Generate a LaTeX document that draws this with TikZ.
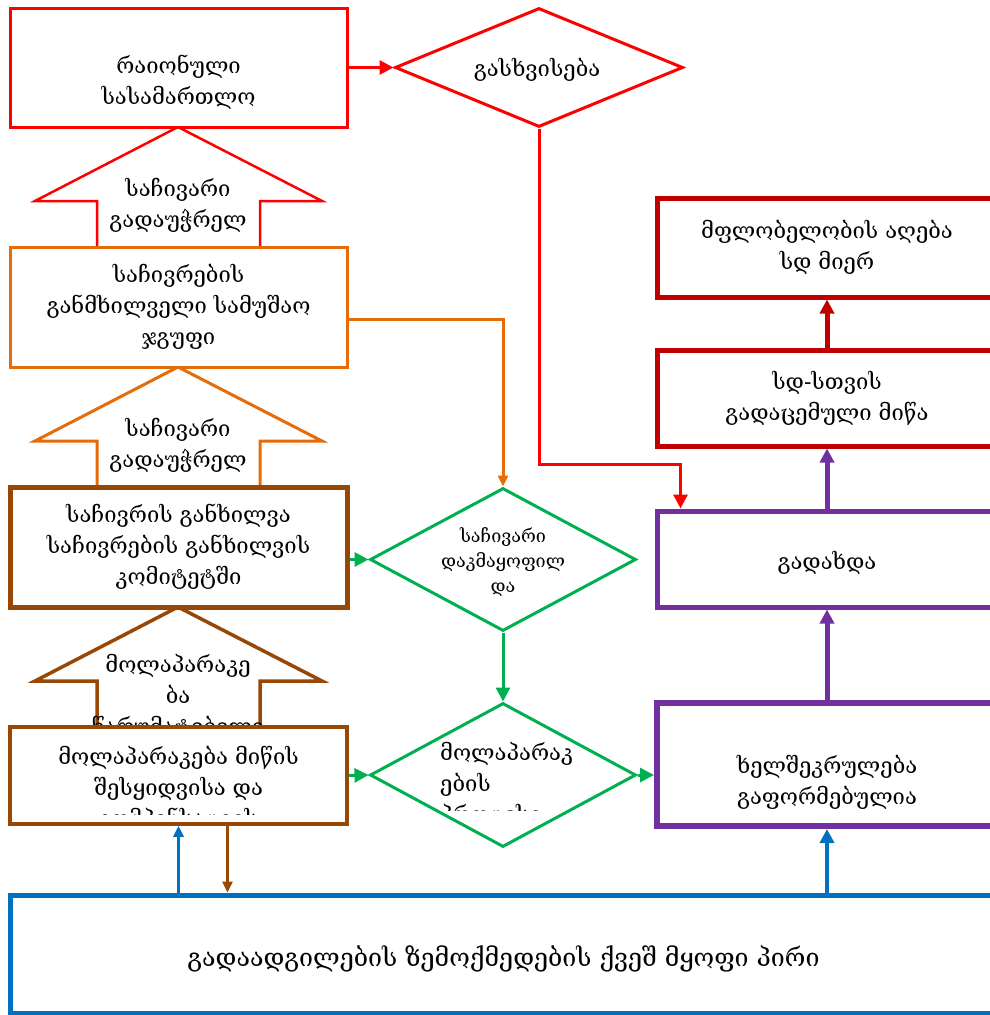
\documentclass[tikz,border=0pt]{standalone}
\usepackage{fontspec}
\setmainfont{DejaVu Serif}
\usetikzlibrary{arrows.meta,positioning,shapes.geometric}
\definecolor{cRed}{RGB}{255,0,0}
\definecolor{cOrange}{RGB}{228,108,10}
\definecolor{cBrown}{RGB}{151,72,6}
\definecolor{cGreen}{RGB}{0,176,80}
\definecolor{cPurple}{RGB}{112,48,160}
\definecolor{cDark}{RGB}{192,0,0}
\definecolor{cBlue}{RGB}{0,112,192}
\newcommand\geo{\fontsize{22pt}{31pt}\selectfont}
\newcommand\geosm{\fontsize{18pt}{25pt}\selectfont}
\newcommand\geobig{\fontsize{25pt}{31pt}\selectfont}
\begin{document}
\begin{tikzpicture}[x=1pt,y=-1pt,
  txt/.style={align=center,font=\geo,inner sep=0pt},
  lbox/.style={draw,fill=white,align=center,font=\geo,inner sep=0pt,minimum width=337pt},
  rbox/.style={draw,fill=white,align=center,font=\geo,inner sep=0pt,minimum width=340pt},
  dia/.style={diamond,draw,fill=white,inner sep=0pt},
  upar/.style={fill=white,line join=miter},
  ar/.style={-{Triangle[length=14pt,width=14pt]}},
  thin/.style={-{Triangle[length=11pt,width=10pt]}}]
\useasboundingbox (0,0) rectangle (990,1015);
\clip (0,0) rectangle (990,1015);
% up arrows between the left boxes
\foreach \ty/\col/\lw in {127/cRed/2.5pt,367/cOrange/3pt,607/cBrown/3.5pt}
  \draw[upar,draw=\col,line width=\lw] (178,\ty) -- (322,\ty+74) -- (260,\ty+74) -- (260,\ty+125)
    -- (97,\ty+125) -- (97,\ty+74) -- (35,\ty+74) -- cycle;
\node[txt] (up1) at (178,218) {საჩივარი\\გადაუჭრელ\\ი};
\node[txt] (up2) at (178,458) {საჩივარი\\გადაუჭრელ\\ი};
\node[txt] (up3) at (178,697) {მოლაპარაკე\\ბა\\წარუმატებელი};
% left column
\node[lbox,draw=cRed,line width=3pt,minimum height=119pt] (court) at (178.5,67.5) {};
\node[txt] (courtT) at ([yshift=-15pt]court.center) {რაიონული\\სასამართლო};
\node[lbox,draw=cOrange,line width=3pt,minimum height=120pt] (group) at (178.5,307)
  {საჩივრების\\განმხილველი სამუშაო\\ჯგუფი};
\node[lbox,draw=cBrown,line width=5pt,minimum height=120pt] (committee) at (178.5,547)
  {საჩივრის განხილვა\\საჩივრების განხილვის\\კომიტეტში};
\node[lbox,draw=cBrown,line width=3.5pt,minimum height=97pt] (neg) at (178.5,775.5) {};
\begin{scope}
  \clip (20,730) rectangle (340,814);
  \node[txt,text depth=0pt] (negT) at (178.5,786) {მოლაპარაკება მიწის\\შესყიდვისა და\\კომპენსაციის};
\end{scope}
% diamonds
\node[dia,draw=cRed,line width=3pt,minimum width=288pt,minimum height=119pt] (alien) at (539,67.5) {};
\node[txt] (alienT) at (537,70) {გასხვისება};
\node[dia,draw=cGreen,line width=3pt,minimum width=266pt,minimum height=143pt] (satisfied) at (503,559.5) {};
\node[txt,font=\geosm] (satisfiedT) at (503,562) {საჩივარი\\დაკმაყოფილ\\და};
\node[dia,draw=cGreen,line width=3pt,minimum width=266pt,minimum height=144pt] (process) at (503,775) {};
\begin{scope}
  \clip (430,720) rectangle (600,810);
  \node[txt,align=left,anchor=west] (processT) at (440,785) {მოლაპარაკ\\ების\\პროცესი};
\end{scope}
% right column
\node[rbox,draw=cDark,line width=5pt,minimum height=99pt] (possess) at (827,247.5)
  {მფლობელობის აღება\\სდ მიერ};
\node[rbox,draw=cDark,line width=5pt,minimum height=96pt] (transfer) at (827,398)
  {სდ-სთვის\\გადაცემული მიწა};
\node[rbox,draw=cPurple,line width=5pt,minimum height=96pt] (pay) at (827,559) {};
\node[txt] (payT) at ([yshift=-4pt]pay.center) {გადახდა};
\node[rbox,draw=cPurple,line width=6pt,minimum height=123pt] (contract) at (827,764.5) {};
\node[txt] (contractT) at ([yshift=-18pt]contract.center) {ხელშეკრულება\\გაფორმებულია};
\node[draw=cBlue,line width=5pt,fill=white,inner sep=0pt,minimum width=987pt,minimum height=118pt]
  (person) at (503.5,954) {};
\node[txt,font=\geobig] (personT) at ([yshift=-5pt]person.center) {გადაადგილების ზემოქმედების ქვეშ მყოფი პირი};
% connectors
\draw[ar,cRed,line width=3pt] (court.east) -- (alien.west);
\draw[ar,cRed,line width=3pt] (alien.south) -- ++(0,336) -| ([xshift=26pt]pay.north west);
\draw[thin,cOrange,line width=3pt] ([yshift=-12pt]group.east) -| (satisfied.north);
\draw[ar,cGreen,line width=3pt] (committee.east |- satisfied.west) -- (satisfied.west);
\draw[ar,cGreen,line width=3pt] (satisfied.south) -- (process.north);
\draw[ar,cGreen,line width=3pt] (neg.east) -- (process.west);
\draw[ar,cGreen,line width=3pt] (process.east) -- (process.east -| contract.west);
\foreach \a/\b in {contract/pay,pay/transfer}
  \draw[ar,cPurple,line width=5pt] (\a.north) -- (\b.south);
\draw[ar,cDark,line width=5pt] (transfer.north) -- (possess.south);
\draw[thin,cBlue,line width=3pt] (neg.south |- person.north) -- (neg.south);
\draw[thin,cBrown,line width=2.5pt] ([xshift=49pt]neg.south) -- ([xshift=49pt]neg.south |- person.north);
\draw[ar,cBlue,line width=4pt] (contract.south |- person.north) -- (contract.south);
\end{tikzpicture}
\end{document}
